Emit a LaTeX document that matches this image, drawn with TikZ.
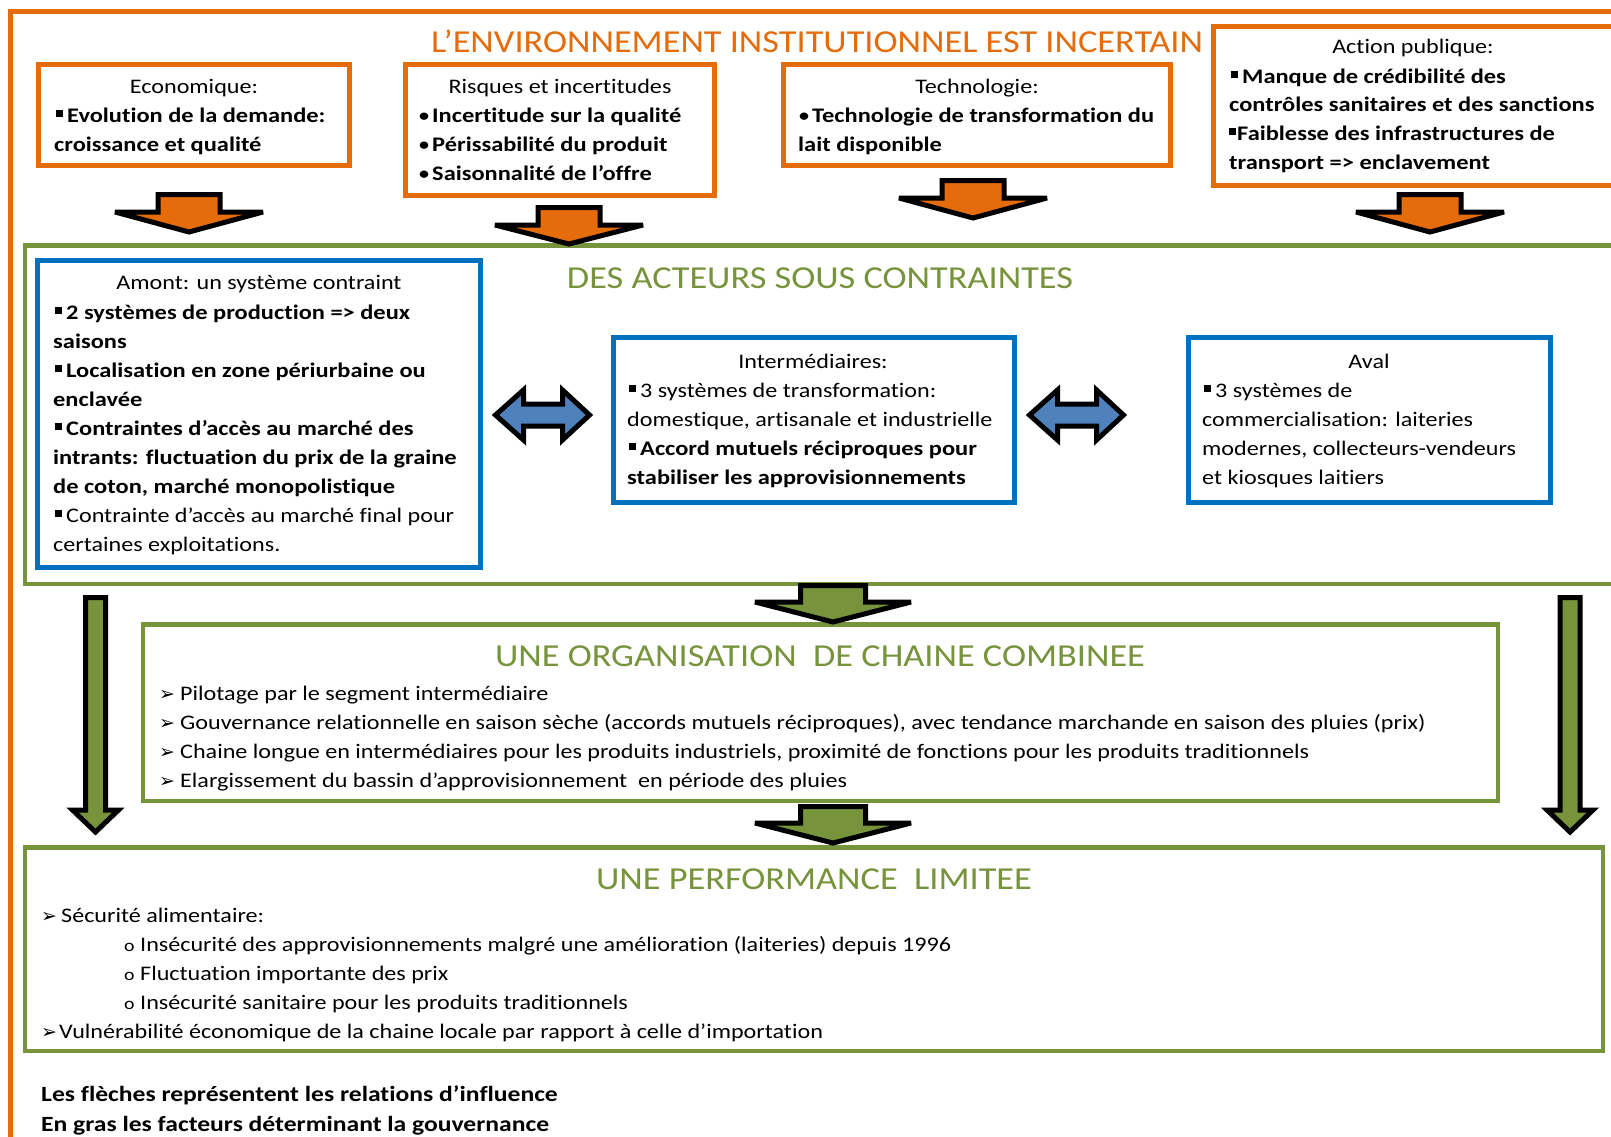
\documentclass[tikz,border=0pt]{standalone}
\usepackage{fontspec}
\setmainfont{Carlito}[FakeStretch=1.165, BoldFeatures={FakeStretch=1.18}, RawFeature=-liga]
\newfontfamily\ttlfont{Carlito}[FakeStretch=1.135, RawFeature=-liga]
\newfontfamily\dvfont{DejaVu Sans}
\definecolor{orng}{HTML}{E46C0A}
\definecolor{olive}{HTML}{77933C}
\definecolor{bluebx}{HTML}{0070C0}
\definecolor{bluearr}{HTML}{4F81BD}

% square bullet, arrow bullet, small circle bullet
\newcommand\sqb{\hspace{2pt}\rule[5.5pt]{6.5pt}{6.5pt}\hspace{4.5pt}}
\newcommand\sqbn{\rule[5.5pt]{6.5pt}{6.5pt}\hspace{1.5pt}}
\newcommand\arb{{\dvfont\fontsize{19}{19}\selectfont ➢}}
\newcommand\cib{{\fontsize{17}{17}\selectfont o}}
\newcommand\lines[1]{\parbox[t]{1500pt}{\raggedright #1}}

% downward block arrow: style, centre x, top y, shoulder y, tip y, shaft half width, wing half width
\newcommand\downblk[7]{%
  \draw[#1] (#2-#6,#3) -- (#2+#6,#3) -- (#2+#6,#4) -- (#2+#7,#4) -- (#2,#5)
    -- (#2-#7,#4) -- (#2-#6,#4) -- cycle;}
% horizontal double block arrow: style, centre y, left tip, left base, right base, right tip, shaft half, head half
\newcommand\dblblk[8]{%
  \draw[#1] (#3,#2) -- (#4,#2-#8) -- (#4,#2-#7) -- (#5,#2-#7) -- (#5,#2-#8) -- (#6,#2)
    -- (#5,#2+#8) -- (#5,#2+#7) -- (#4,#2+#7) -- (#4,#2+#8) -- cycle;}

\begin{document}
\begin{tikzpicture}[x=1pt,y=-1pt,
  obox/.style={draw=orng, line width=5pt, inner sep=0pt},
  gbox/.style={draw=olive, line width=4.5pt, inner sep=0pt},
  bbox/.style={draw=bluebx, line width=5pt, inner sep=0pt},
  blk/.style={draw=black, line width=5pt, line join=miter, miter limit=4},
  txt/.style={inner sep=0pt, anchor=base west, font=\fontsize{20.7}{29.2}\selectfont},
  hd/.style={inner sep=0pt, anchor=base, font=\fontsize{20.7}{29.2}\selectfont},
  ttl/.style={inner sep=0pt, anchor=base, font=\ttlfont\fontsize{32}{36}\selectfont}]
\useasboundingbox (0,0) rectangle (1611,1136);
\clip (0,0) rectangle (1611,1136);

% ---------- frames and boxes ----------
\node[obox, minimum width=1689.5pt, minimum height=1288.5pt] (frame) at (855.25,655.75) {};
\node[obox, minimum width=311pt, minimum height=101pt] (eco) at (194,115) {};
\node[obox, minimum width=309pt, minimum height=131pt] (risk) at (560,130) {};
\node[obox, minimum width=387pt, minimum height=101pt] (tech) at (977,115) {};
\node[obox, minimum width=486.5pt, minimum height=159.5pt] (pub) at (1456.75,105.75) {};

\node[gbox, minimum width=1675pt, minimum height=338.5pt] (actors) at (862.5,414.75) {};
\node[bbox, minimum width=443pt, minimum height=307pt] (amont) at (259,413.75) {};
\node[bbox, minimum width=401pt, minimum height=165pt] (inter) at (813.5,419.5) {};
\node[bbox, minimum width=362pt, minimum height=165pt] (aval) at (1369,419.5) {};

\node[gbox, minimum width=1355pt, minimum height=176.5pt] (org) at (820.5,712.75) {};
\node[gbox, minimum width=1578pt, minimum height=203.5pt] (perf) at (814,949.25) {};

% ---------- block arrows ----------
\downblk{blk,fill=orng}{189}{194.5}{212}{232}{31}{74}
\downblk{blk,fill=orng}{569}{207.5}{225}{244}{31}{74}
\downblk{blk,fill=orng}{973}{180.5}{198}{218}{31}{74}
\downblk{blk,fill=orng}{1430}{194.5}{212}{232}{31}{74}
\downblk{blk,fill=olive}{833}{585.5}{602}{622}{32.5}{78}
\downblk{blk,fill=olive}{833}{806.5}{823}{843}{32.5}{78}
\downblk{blk,fill=olive}{95.5}{597.5}{810}{832}{10}{23}
\downblk{blk,fill=olive}{1570}{597.5}{810}{832}{10}{23}
\dblblk{blk,fill=bluearr}{415}{495.5}{523.5}{562.5}{589.5}{11}{25}
\dblblk{blk,fill=bluearr}{415}{1029.5}{1057.5}{1096.5}{1123.5}{11}{25}

% ---------- titles ----------
\node[ttl, text=orng] (envT) at (817,52) {L’ENVIRONNEMENT INSTITUTIONNEL EST INCERTAIN};
\node[ttl, text=olive] (actT) at (820,288) {DES ACTEURS SOUS CONTRAINTES};
\node[ttl, text=olive] (orgT) at (820,666) {UNE ORGANISATION~ DE CHAINE COMBINEE};
\node[ttl, text=olive] (perfT) at (814,889) {UNE PERFORMANCE~ LIMITEE};

% ---------- environment boxes ----------
\node[hd] (ecoH) at (194,93) {Economique:};
\node[txt] (ecoB) at (54,122) {\lines{\sqb\textbf{Evolution de la demande:}\\
  \textbf{croissance et qualité}}};

\node[hd] (riskH) at (560,93) {Risques et incertitudes};
\node[txt] (riskB) at (418,122) {\lines{•\hspace{2pt}\textbf{Incertitude sur la qualité}\\
  •\hspace{2pt}\textbf{Périssabilité du produit}\\
  •\hspace{2pt}\textbf{Saisonnalité de l’offre}}};

\node[hd] (techH) at (977,93) {Technologie:};
\node[txt] (techB) at (798,122) {\lines{•\hspace{2pt}\textbf{Technologie de transformation du}\\
  \textbf{lait disponible}}};

\node[hd] (pubH) at (1413,53) {Action publique:};
\node[txt, font=\fontsize{20.7}{28.7}\selectfont] (pubB) at (1229,83) {\lines{\sqb\textbf{Manque de crédibilité des}\\
  \textbf{contrôles sanitaires et des sanctions}\\
  \sqbn\textbf{Faiblesse des infrastructures de}\\
  \textbf{transport => enclavement}}};

% ---------- actors ----------
\node[hd] (amontH) at (259,289) {Amont: un système contraint};
\node[txt, font=\fontsize{20.7}{29}\selectfont] (amontB) at (53,319) {\lines{\sqb\textbf{2 systèmes de production => deux}\\
  \textbf{saisons}\\
  \sqb\textbf{Localisation en zone périurbaine ou}\\
  \textbf{enclavée}\\
  \sqb\textbf{Contraintes d’accès au marché des}\\
  \textbf{intrants: fluctuation du prix de la graine}\\
  \textbf{de coton, marché monopolistique}\\
  \sqb Contrainte d’accès au marché final pour\\
  certaines exploitations.}};

\node[hd] (interH) at (813,368) {Intermédiaires:};
\node[txt] (interB) at (627,397) {\lines{\sqb 3 systèmes de transformation:\\
  domestique, artisanale et industrielle\\
  \sqb\textbf{Accord mutuels réciproques pour}\\
  \textbf{stabiliser les approvisionnements}}};

\node[hd] (avalH) at (1369,368) {Aval};
\node[txt] (avalB) at (1202,397) {\lines{\sqb 3 systèmes de\\
  commercialisation: laiteries\\
  modernes, collecteurs-vendeurs\\
  et kiosques laitiers}};

% ---------- chain organisation ----------
\node[txt] (orgB) at (159,700) {\lines{\makebox[21pt][l]{\arb}Pilotage par le segment intermédiaire\\
  \makebox[21pt][l]{\arb}Gouvernance relationnelle en saison sèche (accords mutuels réciproques), avec tendance marchande en saison des pluies (prix)\\
  \makebox[21pt][l]{\arb}Chaine longue en intermédiaires pour les produits industriels, proximité de fonctions pour les produits traditionnels\\
  \makebox[21pt][l]{\arb}Elargissement du bassin d’approvisionnement~ en période des pluies}};

% ---------- performance ----------
\node[txt, font=\fontsize{20.7}{29}\selectfont] (perfB) at (41,922) {\lines{\makebox[20pt][l]{\arb}Sécurité alimentaire:\\
  \hspace*{83pt}\makebox[16pt][l]{\cib}Insécurité des approvisionnements malgré une amélioration (laiteries) depuis 1996\\
  \hspace*{83pt}\makebox[16pt][l]{\cib}Fluctuation importante des prix\\
  \hspace*{83pt}\makebox[16pt][l]{\cib}Insécurité sanitaire pour les produits traditionnels\\
  \makebox[18pt][l]{\arb}Vulnérabilité économique de la chaine locale par rapport à celle d’importation}};

% ---------- legend ----------
\node[txt, font=\fontsize{21.7}{30}\selectfont\bfseries] (legend) at (41,1101) {\lines{Les flèches représentent les relations d’influence\\
  En gras les facteurs déterminant la gouvernance}};
\end{tikzpicture}
\end{document}
